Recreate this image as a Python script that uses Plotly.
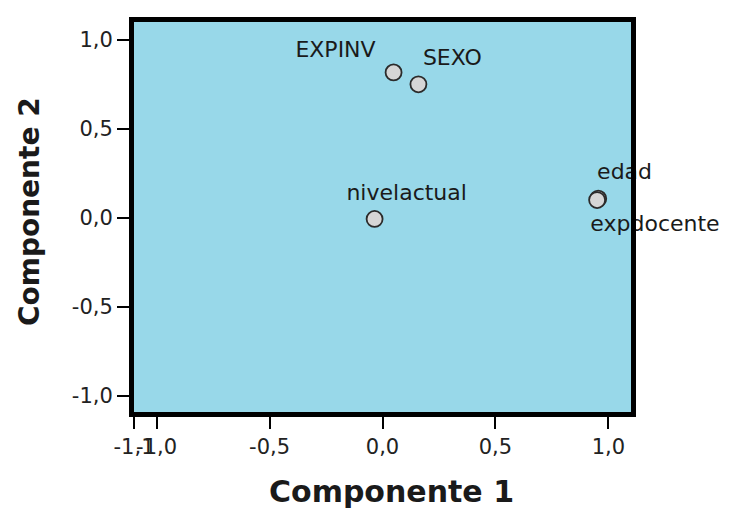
import plotly.graph_objects as go

# Data (component loadings)
variables = ["EXPINV", "SEXO", "nivelactual", "edad", "expdocente"]
comp1 = [0.049, 0.159, -0.035, 0.955, 0.950]
comp2 = [0.817, 0.750, -0.006, 0.108, 0.100]

x_tick_vals = [-1.1, -1.0, -0.5, 0.0, 0.5, 1.0]
x_tick_text = ["-1,1", "-1,0", "-0,5", "0,0", "0,5", "1,0"]
y_tick_vals = [-1.0, -0.5, 0.0, 0.5, 1.0]
y_tick_text = ["-1,0", "-0,5", "0,0", "0,5", "1,0"]

# label placement (data-unit offsets relative to each point, and anchoring)
label_dx = [-0.257, 0.150, 0.142, -0.005, -0.030]
label_dy = [0.118, 0.140, 0.135, 0.140, -0.140]
label_pos = ["middle center", "middle center", "middle center", "middle right", "middle right"]

fig = go.Figure()
fig.add_trace(go.Scatter(
    x=comp1, y=comp2, mode="markers",
    marker=dict(size=16, color="#D6D6D6", line=dict(color="#2b2b2b", width=1.8)),
    cliponaxis=False, hoverinfo="skip", showlegend=False,
))
fig.add_trace(go.Scatter(
    x=[a + d for a, d in zip(comp1, label_dx)],
    y=[b + d for b, d in zip(comp2, label_dy)],
    mode="text", text=variables, textposition=label_pos,
    textfont=dict(family="DejaVu Sans", size=22, color="#1a1a1a"),
    cliponaxis=False, hoverinfo="skip", showlegend=False,
))

axis_common = dict(
    showgrid=False, zeroline=False, showline=True, linecolor="black",
    linewidth=5, mirror=True, ticks="outside", ticklen=12, tickwidth=2,
    tickcolor="black", tickangle=0,
    tickfont=dict(family="DejaVu Sans", size=21, color="#222222"),
)
fig.update_xaxes(range=[-1.1, 1.1], tickmode="array", tickvals=x_tick_vals,
                 ticktext=x_tick_text, **axis_common)
fig.update_yaxes(range=[-1.09, 1.10], tickmode="array", tickvals=y_tick_vals,
                 ticktext=y_tick_text, **axis_common)

fig.add_annotation(text="<b>Componente 1</b>", xref="paper", yref="paper",
                   x=0.519, y=-0.205, showarrow=False, xanchor="center", yanchor="middle",
                   font=dict(family="DejaVu Sans", size=30, color="#1a1a1a"))
fig.add_annotation(text="<b>Componente 2</b>", xref="paper", yref="paper",
                   x=-0.209, y=0.513, showarrow=False, textangle=-90,
                   xanchor="center", yanchor="middle",
                   font=dict(family="DejaVu Sans", size=28, color="#1a1a1a"))

fig.update_layout(
    width=737, height=504,
    margin=dict(l=126, r=114, t=9, b=100),
    plot_bgcolor="#98D8E9", paper_bgcolor="white",
    showlegend=False,
)
fig.write_html("out.html")
